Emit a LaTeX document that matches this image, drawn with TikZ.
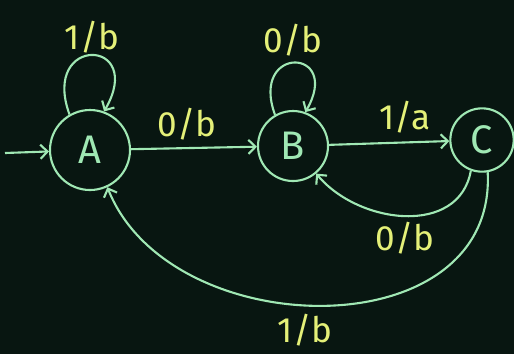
\documentclass[tikz,border=0pt]{standalone}
\usepackage{fontspec}
\setmainfont{Fira Sans}
\usetikzlibrary{arrows.meta}
\definecolor{board}{RGB}{8,22,17}
\definecolor{chalk}{RGB}{160,232,180}
\definecolor{chalkyel}{RGB}{228,240,120}

\begin{document}
\begin{tikzpicture}[x = 0.03cm, y = -0.03cm,
	wire/.style = {draw = chalk, line width = 1.8pt},
	state/.style = {circle, draw = chalk, line width = 1.8pt, inner sep = 0pt, text = chalk, font = \fontsize{34}{36}\selectfont},
	lbl/.style = {text = chalkyel, font = \fontsize{30}{32}\selectfont},
	>={Straight Barb[length = 6pt, width = 12pt]}]

	\fill[board] (0, 0) rectangle (514, 354);
	\useasboundingbox (0, 0) rectangle (514, 354);

	\node[state, minimum size = 2.4cm] (A) at (90, 150) {A};
	\node[state, minimum size = 2.1cm] (B) at (293, 146) {B};
	\node[state, minimum size = 1.9cm] (C) at (482, 140) {C};

	\coordinate (start) at (5, 153);
	\draw[wire, ->] (start) -- (A);

	\draw[wire, ->] (A) -- (B);
	\draw[wire, ->] (B) -- (C);

	\draw[wire, ->] (A.120) to[out = 110, in = 60, looseness = 6.3] (A.70);
	\draw[wire, ->] (B.120) to[out = 110, in = 60, looseness = 6.3] (B.70);

	\draw[wire, ->] (C.-110) to[out = -100, in = -50, looseness = 1.1] (B.-50);
	\draw[wire, ->] (C.-80) .. controls (497, 350) and (170, 345) .. (A.-65);

	\node[lbl] (loopA) at (92, 37) {1/b};
	\node[lbl] (loopB) at (293, 40) {0/b};
	\node[lbl] (ab) at (187, 124) {0/b};
	\node[lbl] (bc) at (405, 117) {1/a};
	\node[lbl] (cb) at (405, 238) {0/b};
	\node[lbl] (ca) at (305, 330) {1/b};

\end{tikzpicture}
\end{document}
